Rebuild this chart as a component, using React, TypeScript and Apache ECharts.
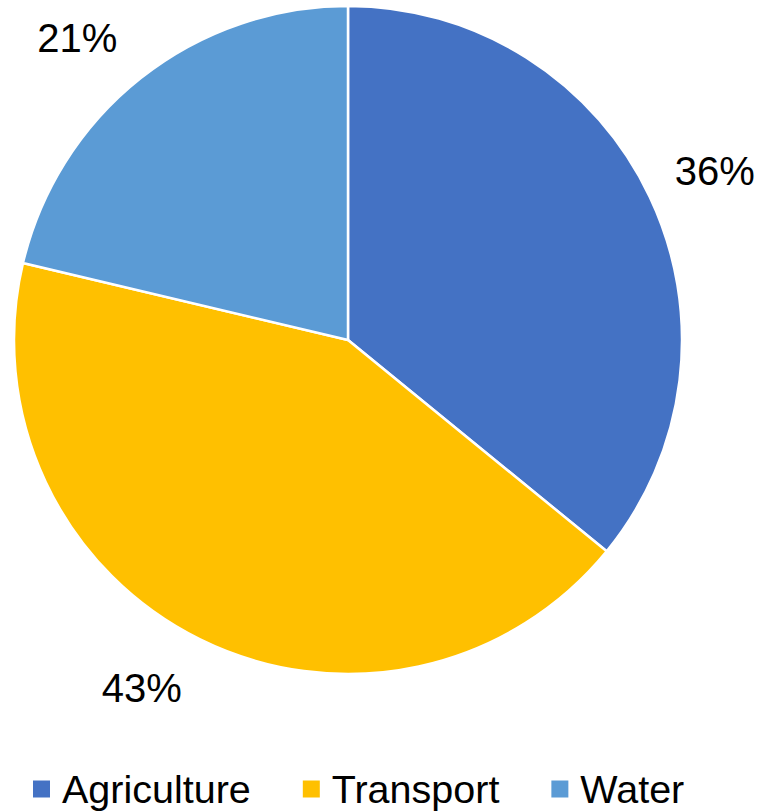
import React, { useEffect, useRef } from "react";
import * as echarts from "echarts";

const categories = ["Agriculture", "Transport", "Water"];
const values = [35.9, 42.8, 21.3];
const colors = ["#4472C4", "#FFC000", "#5B9BD5"];
const labelShiftX = [-7, 0, 0];
const labelShiftY = [-13, 22, -16];

export default function App() {
  const ref = useRef<HTMLDivElement>(null);
  useEffect(() => {
    if (!ref.current) return;
    const chart = echarts.init(ref.current, null, { renderer: "svg" });
    chart.setOption({
      animation: false,
      backgroundColor: "#ffffff",
      textStyle: { fontFamily: "Liberation Sans" },
      legend: {
        data: categories,
        left: 26,
        top: 764,
        icon: "rect",
        itemWidth: 19,
        itemHeight: 19,
        itemGap: 50,
        textStyle: { fontSize: 39.5, color: "#000", fontFamily: "Liberation Sans", padding: [0, 0, 0, 6] },
      },
      series: [
        {
          type: "pie",
          center: [348, 340],
          radius: 334,
          startAngle: 90,
          clockwise: true,
          avoidLabelOverlap: false,
          percentPrecision: 0,
          itemStyle: { borderColor: "#ffffff", borderWidth: 2.5 },
          label: {
            show: true,
            position: "outside",
            formatter: "{d}%",
            fontSize: 40,
            color: "#000",
            fontFamily: "Liberation Sans",
          },
          labelLine: { show: false, length: 30, length2: 0 },
          labelLayout: (p: any) => ({ dx: labelShiftX[p.dataIndex], dy: labelShiftY[p.dataIndex] }),
          data: categories.map((c, i) => ({ name: c, value: values[i], itemStyle: { color: colors[i] } })),
        },
      ],
    });
    return () => chart.dispose();
  }, []);
  return <div ref={ref} style={{ position: "fixed", left: 0, top: 0, width: 764, height: 811 }} />;
}
